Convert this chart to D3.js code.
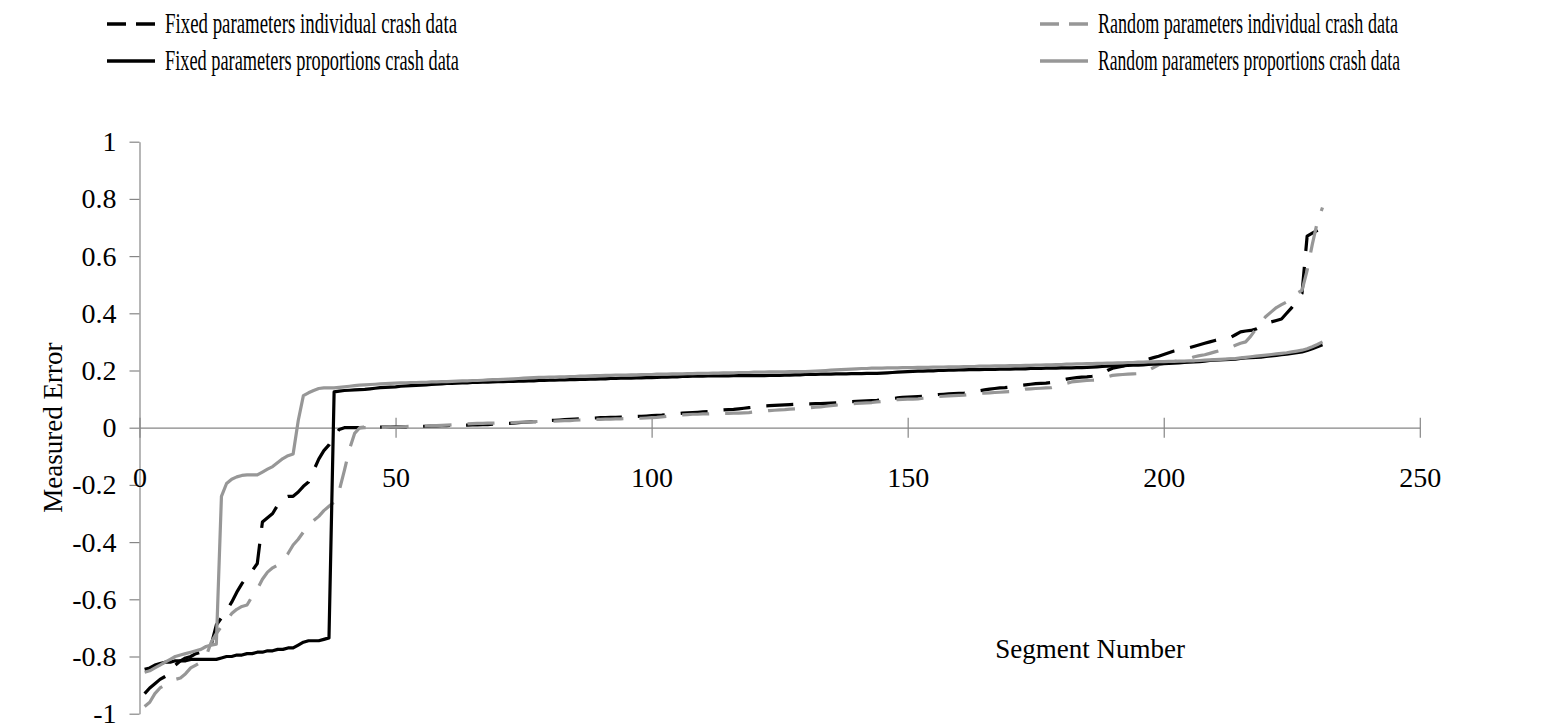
<!DOCTYPE html>
<html>
<head>
<meta charset="utf-8">
<script src="https://cdn.jsdelivr.net/npm/d3@7"></script>
<style>
  html, body { margin: 0; padding: 0; background: #fff; }
  svg { display: block; }
  text { font-family: "Liberation Serif", "Times New Roman", serif; fill: #000; }
</style>
</head>
<body>
<svg id="chart" width="1545" height="725"></svg>
<script>
// Sorted measured error per road segment, four model variants
const fixedIndividual = [
  -0.93, -0.91, -0.895, -0.88, -0.87, -0.86, -0.83, -0.815, -0.805, -0.80,
  -0.79, -0.785, -0.775, -0.76, -0.69, -0.665, -0.64, -0.61, -0.575, -0.545,
  -0.52, -0.50, -0.475, -0.33, -0.315, -0.30, -0.27, -0.245, -0.24, -0.24,
  -0.225, -0.205, -0.19, -0.15, -0.11, -0.08, -0.06, -0.03, -0.006, 0.0,
  0.0, 0.0, 0.0, 0.001, 0.001, 0.001, 0.002, 0.002, 0.002, 0.003,
  0.003, 0.003, 0.004, 0.004, 0.005, 0.005, 0.006, 0.006, 0.007, 0.007,
  0.008, 0.008, 0.009, 0.009, 0.010, 0.010, 0.011, 0.011, 0.012, 0.013,
  0.014, 0.015, 0.016, 0.018, 0.019, 0.020, 0.021, 0.022, 0.023, 0.025,
  0.026, 0.027, 0.028, 0.029, 0.030, 0.031, 0.032, 0.033, 0.034, 0.035,
  0.035, 0.036, 0.036, 0.037, 0.037, 0.038, 0.039, 0.040, 0.041, 0.042,
  0.043, 0.044, 0.046, 0.048, 0.049, 0.051, 0.052, 0.053, 0.054, 0.055,
  0.056, 0.058, 0.060, 0.062, 0.063, 0.064, 0.066, 0.068, 0.070, 0.072,
  0.074, 0.076, 0.077, 0.078, 0.079, 0.080, 0.081, 0.082, 0.082, 0.083,
  0.083, 0.084, 0.084, 0.085, 0.086, 0.087, 0.088, 0.090, 0.091, 0.092,
  0.093, 0.094, 0.095, 0.096, 0.098, 0.100, 0.102, 0.104, 0.106, 0.107,
  0.108, 0.109, 0.110, 0.112, 0.114, 0.116, 0.117, 0.118, 0.119, 0.120,
  0.121, 0.123, 0.126, 0.129, 0.132, 0.135, 0.137, 0.139, 0.140, 0.142,
  0.145, 0.148, 0.150, 0.152, 0.154, 0.155, 0.156, 0.158, 0.162, 0.166,
  0.170, 0.173, 0.175, 0.177, 0.178, 0.180, 0.183, 0.190, 0.200, 0.208,
  0.212, 0.215, 0.220, 0.226, 0.230, 0.235, 0.240, 0.245, 0.250, 0.256,
  0.262, 0.268, 0.272, 0.276, 0.280, 0.285, 0.290, 0.295, 0.300, 0.305,
  0.310, 0.312, 0.315, 0.325, 0.335, 0.338, 0.340, 0.345, 0.355, 0.365,
  0.370, 0.375, 0.380, 0.400, 0.420, 0.445, 0.470, 0.670, 0.680, 0.690, 0.700
];

const randomIndividual = [
  -0.975, -0.96, -0.93, -0.91, -0.90, -0.89, -0.88, -0.875, -0.86, -0.84,
  -0.83, -0.82, -0.80, -0.75, -0.72, -0.695, -0.675, -0.65, -0.635, -0.625,
  -0.62, -0.59, -0.565, -0.53, -0.505, -0.49, -0.48, -0.46, -0.44, -0.41,
  -0.39, -0.365, -0.345, -0.325, -0.31, -0.29, -0.275, -0.26, -0.22, -0.15,
  -0.075, -0.02, 0.0, 0.0, 0.0, 0.0, 0.001, 0.001, 0.002, 0.002,
  0.003, 0.004, 0.005, 0.005, 0.006, 0.006, 0.007, 0.007, 0.008, 0.009,
  0.010, 0.011, 0.012, 0.013, 0.014, 0.015, 0.015, 0.016, 0.016, 0.017,
  0.017, 0.018, 0.018, 0.019, 0.019, 0.020, 0.021, 0.022, 0.022, 0.023,
  0.023, 0.024, 0.025, 0.025, 0.026, 0.027, 0.028, 0.028, 0.029, 0.029,
  0.030, 0.030, 0.031, 0.031, 0.032, 0.032, 0.033, 0.033, 0.034, 0.035,
  0.036, 0.038, 0.040, 0.043, 0.044, 0.045, 0.046, 0.047, 0.047, 0.048,
  0.048, 0.049, 0.049, 0.050, 0.050, 0.051, 0.051, 0.052, 0.053, 0.055,
  0.056, 0.058, 0.060, 0.061, 0.062, 0.063, 0.065, 0.066, 0.068, 0.069,
  0.070, 0.072, 0.073, 0.075, 0.077, 0.079, 0.080, 0.082, 0.084, 0.085,
  0.086, 0.087, 0.088, 0.090, 0.092, 0.095, 0.097, 0.098, 0.099, 0.100,
  0.100, 0.101, 0.103, 0.105, 0.108, 0.109, 0.110, 0.111, 0.112, 0.113,
  0.114, 0.116, 0.118, 0.120, 0.121, 0.122, 0.123, 0.124, 0.125, 0.126,
  0.128, 0.131, 0.135, 0.136, 0.137, 0.138, 0.139, 0.140, 0.145, 0.150,
  0.155, 0.160, 0.162, 0.164, 0.165, 0.166, 0.167, 0.172, 0.178, 0.183,
  0.185, 0.186, 0.187, 0.188, 0.189, 0.190, 0.200, 0.210, 0.220, 0.225,
  0.228, 0.231, 0.234, 0.237, 0.242, 0.248, 0.252, 0.255, 0.260, 0.265,
  0.270, 0.275, 0.280, 0.288, 0.295, 0.300, 0.320, 0.345, 0.370, 0.390,
  0.405, 0.420, 0.430, 0.440, 0.455, 0.470, 0.480, 0.550, 0.640, 0.720, 0.770
];

const fixedProportions = [
  -0.845, -0.84, -0.83, -0.825, -0.82, -0.82, -0.815, -0.815, -0.815, -0.81,
  -0.81, -0.81, -0.81, -0.81, -0.81, -0.805, -0.80, -0.80, -0.795, -0.795,
  -0.79, -0.79, -0.785, -0.785, -0.78, -0.78, -0.775, -0.775, -0.77, -0.77,
  -0.76, -0.75, -0.745, -0.745, -0.745, -0.74, -0.735, 0.125, 0.128, 0.130,
  0.131, 0.132, 0.133, 0.134, 0.136, 0.138, 0.140, 0.141, 0.142, 0.143,
  0.145, 0.146, 0.147, 0.148, 0.149, 0.150, 0.151, 0.152, 0.153, 0.155,
  0.155, 0.156, 0.157, 0.157, 0.158, 0.158, 0.159, 0.159, 0.160, 0.161,
  0.161, 0.162, 0.162, 0.163, 0.163, 0.164, 0.164, 0.165, 0.165, 0.166,
  0.166, 0.167, 0.167, 0.168, 0.168, 0.169, 0.169, 0.170, 0.170, 0.171,
  0.171, 0.172, 0.172, 0.173, 0.173, 0.173, 0.174, 0.174, 0.175, 0.175,
  0.176, 0.177, 0.177, 0.178, 0.178, 0.179, 0.179, 0.180, 0.180, 0.180,
  0.181, 0.181, 0.181, 0.181, 0.181, 0.182, 0.182, 0.182, 0.182, 0.182,
  0.182, 0.182, 0.183, 0.183, 0.183, 0.184, 0.184, 0.185, 0.185, 0.186,
  0.186, 0.186, 0.187, 0.187, 0.187, 0.188, 0.188, 0.188, 0.189, 0.189,
  0.189, 0.190, 0.190, 0.190, 0.191, 0.192, 0.193, 0.194, 0.195, 0.196,
  0.197, 0.198, 0.198, 0.199, 0.199, 0.200, 0.200, 0.201, 0.201, 0.202,
  0.202, 0.203, 0.203, 0.203, 0.204, 0.204, 0.204, 0.205, 0.205, 0.205,
  0.206, 0.206, 0.206, 0.207, 0.207, 0.207, 0.208, 0.208, 0.208, 0.209,
  0.209, 0.209, 0.210, 0.210, 0.211, 0.212, 0.213, 0.214, 0.215, 0.216,
  0.216, 0.217, 0.218, 0.219, 0.219, 0.220, 0.221, 0.222, 0.223, 0.224,
  0.225, 0.226, 0.227, 0.228, 0.229, 0.230, 0.231, 0.233, 0.235, 0.236,
  0.237, 0.238, 0.239, 0.240, 0.242, 0.244, 0.245, 0.246, 0.247, 0.249,
  0.251, 0.253, 0.255, 0.257, 0.260, 0.262, 0.265, 0.270, 0.276, 0.283, 0.290
];

const randomProportions = [
  -0.855, -0.85, -0.84, -0.83, -0.82, -0.81, -0.80, -0.795, -0.79, -0.785,
  -0.78, -0.775, -0.765, -0.76, -0.757, -0.24, -0.195, -0.18, -0.172, -0.167,
  -0.165, -0.165, -0.165, -0.155, -0.145, -0.136, -0.122, -0.108, -0.098, -0.092,
  0.025, 0.112, 0.122, 0.130, 0.137, 0.139, 0.139, 0.139, 0.141, 0.143,
  0.145, 0.147, 0.149, 0.150, 0.151, 0.152, 0.153, 0.154, 0.155, 0.156,
  0.157, 0.157, 0.158, 0.158, 0.159, 0.159, 0.160, 0.160, 0.161, 0.161,
  0.162, 0.163, 0.164, 0.164, 0.165, 0.165, 0.166, 0.167, 0.168, 0.168,
  0.169, 0.170, 0.171, 0.172, 0.173, 0.174, 0.175, 0.176, 0.176, 0.177,
  0.177, 0.178, 0.178, 0.179, 0.179, 0.180, 0.180, 0.181, 0.182, 0.182,
  0.183, 0.183, 0.184, 0.184, 0.184, 0.185, 0.185, 0.186, 0.186, 0.186,
  0.187, 0.187, 0.187, 0.188, 0.188, 0.188, 0.189, 0.189, 0.190, 0.190,
  0.190, 0.191, 0.191, 0.192, 0.192, 0.192, 0.193, 0.193, 0.193, 0.194,
  0.194, 0.194, 0.195, 0.195, 0.195, 0.195, 0.196, 0.196, 0.196, 0.196,
  0.197, 0.198, 0.199, 0.200, 0.201, 0.202, 0.203, 0.204, 0.205, 0.206,
  0.207, 0.207, 0.208, 0.208, 0.208, 0.209, 0.209, 0.209, 0.210, 0.210,
  0.210, 0.211, 0.211, 0.211, 0.212, 0.212, 0.212, 0.213, 0.213, 0.213,
  0.214, 0.214, 0.214, 0.215, 0.215, 0.215, 0.216, 0.216, 0.216, 0.217,
  0.217, 0.217, 0.218, 0.218, 0.219, 0.219, 0.220, 0.220, 0.221, 0.221,
  0.222, 0.222, 0.223, 0.223, 0.224, 0.224, 0.225, 0.225, 0.226, 0.226,
  0.227, 0.227, 0.228, 0.228, 0.229, 0.229, 0.230, 0.230, 0.231, 0.231,
  0.232, 0.232, 0.233, 0.233, 0.234, 0.234, 0.235, 0.236, 0.237, 0.238,
  0.239, 0.240, 0.241, 0.242, 0.244, 0.246, 0.248, 0.250, 0.252, 0.254,
  0.256, 0.258, 0.260, 0.262, 0.265, 0.268, 0.271, 0.276, 0.283, 0.291, 0.300
];

const seriesNames = [
  "Fixed parameters individual crash data",
  "Random parameters individual crash data",
  "Fixed parameters proportions crash data",
  "Random parameters proportions crash data"
];

const xTicks = [0, 50, 100, 150, 200, 250];
const yTicks = [-1, -0.8, -0.6, -0.4, -0.2, 0, 0.2, 0.4, 0.6, 0.8, 1];

const BLACK = "#000000";
const GREY = "#979797";
const AXIS = "#868686";
const SERIF = '"Liberation Serif", "Times New Roman", serif';

const series = [
  { name: seriesNames[0], values: fixedIndividual, color: BLACK, dash: "27,16" },
  { name: seriesNames[1], values: randomIndividual, color: GREY, dash: "27,16" },
  { name: seriesNames[2], values: fixedProportions, color: BLACK, dash: null },
  { name: seriesNames[3], values: randomProportions, color: GREY, dash: null }
];

const svg = d3.select("#chart");

const x = d3.scaleLinear().domain([0, 250]).range([139.5, 1419.8]);
const y = d3.scaleLinear().domain([-1, 1]).range([713.7, 141.7]);

// Y axis: ticks on the outside only, plain hyphen for negatives
const yAxis = d3.axisLeft(y)
  .tickValues(yTicks)
  .tickSize(10)
  .tickSizeOuter(0)
  .tickPadding(13)
  .tickFormat(d => String(d));

const gy = svg.append("g")
  .attr("transform", `translate(${x(0)},0)`)
  .call(yAxis)
  .attr("font-family", SERIF)
  .attr("font-size", 28);
gy.select(".domain").attr("stroke", AXIS).attr("stroke-width", 1.2);
gy.selectAll(".tick line").attr("stroke", AXIS).attr("stroke-width", 1.2);
gy.selectAll(".tick text").attr("fill", "#000");

// X axis through zero, tick marks crossing the line
const xAxis = d3.axisBottom(x)
  .tickValues(xTicks)
  .tickSize(10)
  .tickSizeOuter(0)
  .tickFormat(d => String(d));

const gx = svg.append("g")
  .attr("transform", `translate(0,${y(0)})`)
  .call(xAxis)
  .attr("font-family", SERIF)
  .attr("font-size", 28);
gx.select(".domain").attr("stroke", AXIS).attr("stroke-width", 1.2);
gx.selectAll(".tick line").attr("stroke", AXIS).attr("stroke-width", 1.2).attr("y1", -10).attr("y2", 10);
gx.selectAll(".tick text")
  .attr("y", 59)
  .attr("dy", 0)
  .attr("fill", "#000");

// Series lines
const line = d3.line()
  .x((d, i) => x(i + 1))
  .y(d => y(d));

svg.append("g")
  .selectAll("path")
  .data(series)
  .join("path")
  .attr("d", d => line(d.values))
  .attr("fill", "none")
  .attr("stroke", d => d.color)
  .attr("stroke-width", 3.2)
  .attr("stroke-linejoin", "round")
  .attr("stroke-dasharray", d => d.dash);

// Axis titles
svg.append("text")
  .attr("transform", `translate(62,${y(0)}) rotate(-90)`)
  .attr("text-anchor", "middle")
  .style("font-size", "27px")
  .text("Measured Error");

svg.append("text")
  .attr("x", 1185)
  .attr("y", 658)
  .attr("text-anchor", "end")
  .style("font-size", "27px")
  .text("Segment Number");

// Legend, two columns
const legendCols = [107, 1040];
const legendRows = [24, 61];
const legendTextWidths = [292, 300, 294, 302];

const legend = svg.append("g");
series.forEach((s, i) => {
  const col = i % 2;
  const row = Math.floor(i / 2);
  const lx = legendCols[col];
  const ly = legendRows[row];
  legend.append("line")
    .attr("x1", lx).attr("x2", lx + 48)
    .attr("y1", ly).attr("y2", ly)
    .attr("stroke", s.color)
    .attr("stroke-width", 3.5)
    .attr("stroke-dasharray", s.dash ? "19,10" : null);
  legend.append("text")
    .attr("x", lx + 58)
    .attr("y", ly + 9)
    .attr("textLength", legendTextWidths[i])
    .attr("lengthAdjust", "spacingAndGlyphs")
    .style("font-size", "29px")
    .text(s.name);
});
</script>
</body>
</html>
